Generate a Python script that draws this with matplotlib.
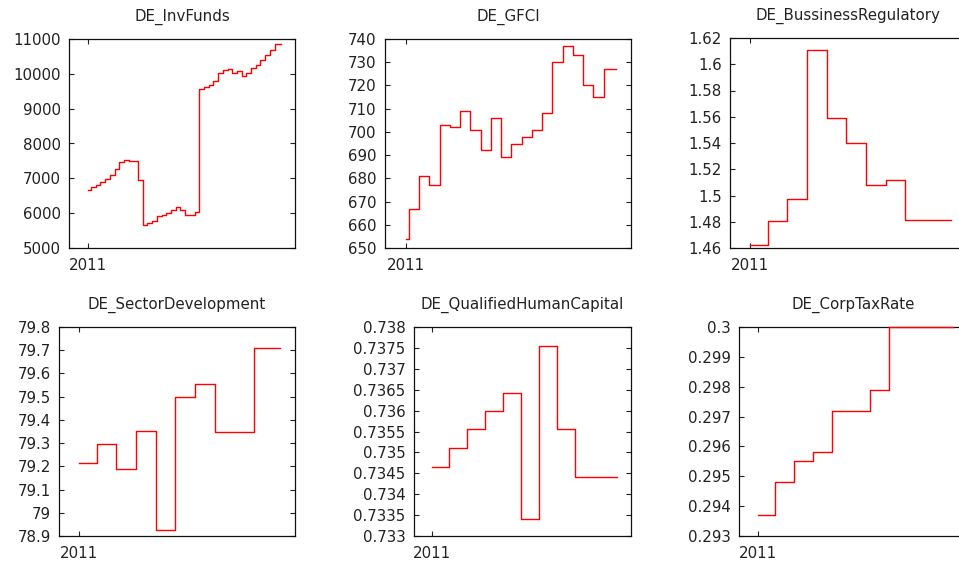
import numpy as np
import matplotlib
matplotlib.use("Agg")
import matplotlib.pyplot as plt
from matplotlib.ticker import MultipleLocator, FuncFormatter

# Months since Jan 2011 where each series changes, and the value from that month on
# (the last entry of every list is where the line ends)
inv_months = [0, 2, 5, 8, 11, 14, 17, 20, 23, 26, 29, 32, 35, 38, 41, 44, 47, 50, 53, 56,
              59, 62, 65, 68, 71, 74, 77, 80, 83, 86, 89, 92, 95, 98, 101, 104, 107, 110,
              113, 116, 119, 123]
inv_values = [6660, 6750, 6820, 6900, 6980, 7100, 7280, 7480, 7520, 7500, 7500, 6940, 5650,
              5720, 5780, 5930, 5940, 6010, 6100, 6170, 6080, 5960, 5940, 6030, 9570, 9610,
              9680, 9800, 10030, 10110, 10150, 10030, 10080, 9950, 10020, 10170, 10250,
              10400, 10540, 10680, 10850, 10850]

gfci_months = [0, 2, 8, 14, 20, 26, 32, 38, 44, 50, 56, 62, 68, 74, 80, 86, 92, 98, 104,
               110, 116, 123]
gfci_values = [654, 667, 681, 677, 703, 702, 709, 701, 692, 706, 689, 695, 698, 701, 708,
               730, 737, 733, 720, 715, 727, 727]

breg_months = [0, 11, 23, 35, 47, 59, 71, 83, 95, 123]
breg_values = [1.4625, 1.4803, 1.4976, 1.6109, 1.5588, 1.540, 1.508, 1.5115, 1.4813, 1.4813]

sect_months = [0, 11, 23, 35, 47, 59, 71, 83, 95, 107, 123]
sect_values = [79.214, 79.298, 79.188, 79.353, 78.926, 79.500, 79.555, 79.350, 79.347,
               79.711, 79.711]

qhc_months = [0, 11, 23, 35, 47, 59, 71, 83, 95, 123]
qhc_values = [0.73466, 0.73510, 0.73555, 0.73598, 0.73642, 0.73341, 0.73755, 0.73556,
              0.73442, 0.73442]

tax_months = [0, 11, 23, 35, 47, 71, 83, 123]
tax_values = [0.29369, 0.29480, 0.29550, 0.29580, 0.29720, 0.29790, 0.300, 0.300]

titles = ["DE_InvFunds", "DE_GFCI", "DE_BussinessRegulatory",
          "DE_SectorDevelopment", "DE_QualifiedHumanCapital", "DE_CorpTaxRate"]
series = [(inv_months, inv_values), (gfci_months, gfci_values), (breg_months, breg_values),
          (sect_months, sect_values), (qhc_months, qhc_values), (tax_months, tax_values)]
ylims = [(5000, 11000), (650, 740), (1.46, 1.62), (78.9, 79.8), (0.733, 0.738), (0.293, 0.3)]
ysteps = [1000, 10, 0.02, 0.1, 0.0005, 0.001]

# axes boxes in pixels: left, right, top, bottom (right column runs past the edge)
W, H = 959, 563
boxes = [(69, 295, 39, 248), (385, 631, 39, 248), (730, 966, 38, 248),
         (59, 295, 327, 536), (414, 631, 327, 536), (739, 967, 327, 536)]

plt.rcParams['font.family'] = 'DejaVu Sans'
fs = 10.8
txt = '#222222'

fig = plt.figure(figsize=(W / 100, H / 100), dpi=100)

for (l, r, t, b), title, (months, values), ylim, step in zip(boxes, titles, series, ylims, ysteps):
    ax = fig.add_axes([l / W, (H - b) / H, (r - l) / W, (b - t) / H])
    x = 2011 + np.array(months) / 12.0
    ax.plot(x, values, color='red', lw=1.0, drawstyle='steps-post', zorder=3, clip_on=False)
    ax.set_xlim(2010, 2022)
    ax.set_ylim(*ylim)
    ax.set_xticks([2011])
    ax.set_xticklabels(['2011'])
    ax.yaxis.set_major_locator(MultipleLocator(step))
    ax.yaxis.set_major_formatter(FuncFormatter(lambda v, p: '%g' % round(v, 6)))
    ax.tick_params(direction='in', length=3.6, width=0.8, top=True, right=True,
                   colors=txt, labelsize=fs)
    ax.tick_params(axis='x', pad=7)
    ax.tick_params(axis='y', pad=6)
    for tk in ax.yaxis.get_major_ticks():
        tk.tick2line.set_color('#888888')
    for s in ax.spines.values():
        s.set_color('#111111')
        s.set_linewidth(0.9)
    ax.set_title(title, fontsize=fs, color=txt, pad=13)

fig.savefig('out.png', dpi=100)
